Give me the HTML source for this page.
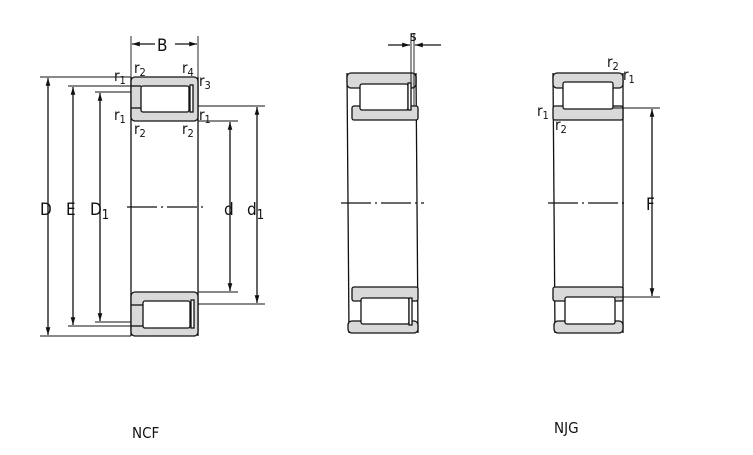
<!DOCTYPE html>
<html><head><meta charset="utf-8"><style>
html,body{margin:0;padding:0;background:#fff;}
svg{display:block}
text{font-family:"DejaVu Sans Condensed","Liberation Sans",sans-serif;fill:#111}
</style></head><body>
<svg width="753" height="455" viewBox="0 0 753 455" xmlns="http://www.w3.org/2000/svg">
<defs>
<marker id="a" viewBox="0 0 10 10" refX="10" refY="5" markerWidth="6" markerHeight="6" orient="auto-start-reverse"><path d="M0,2 L10,5 L0,8 z" fill="#111"/></marker>
</defs>
<g stroke="#111" stroke-width="1.3" fill="none">
<!-- NCF -->
<line x1="131" y1="77" x2="131" y2="336"/><line x1="198" y1="77" x2="198" y2="336"/>
<rect x="131" y="77" width="67" height="44" rx="4" fill="#d9d9d9"/>
<rect x="141" y="86" width="48" height="26" rx="2" fill="#fff"/>
<rect x="190" y="85" width="3" height="27" fill="#fff"/>
<line x1="131" y1="86" x2="141" y2="86"/><line x1="131" y1="108" x2="141" y2="108"/>
<rect x="131" y="292" width="67" height="44" rx="4" fill="#d9d9d9"/>
<rect x="143" y="301" width="47" height="27" rx="2" fill="#fff"/>
<rect x="191" y="300" width="3" height="28" fill="#fff"/>
<line x1="131" y1="305" x2="143" y2="305"/><line x1="131" y1="326" x2="143" y2="326"/>
<line x1="127" y1="207" x2="203" y2="207" stroke-dasharray="30,4,2,4"/>
<!-- dims NCF -->
<g stroke-width="0.9">
<line x1="40" y1="77" x2="131" y2="77"/>
<line x1="40" y1="336" x2="131" y2="336"/>
<line x1="68" y1="86" x2="131" y2="86"/>
<line x1="68" y1="326" x2="131" y2="326"/>
<line x1="95" y1="92" x2="131" y2="92"/>
<line x1="95" y1="322" x2="131" y2="322"/>
<line x1="198" y1="106" x2="265" y2="106"/>
<line x1="198" y1="304" x2="265" y2="304"/>
<line x1="198" y1="121" x2="238" y2="121"/>
<line x1="198" y1="292" x2="238" y2="292"/>
<line x1="131" y1="36" x2="131" y2="77"/>
<line x1="198" y1="36" x2="198" y2="77"/>
</g>
<line x1="48" y1="78" x2="48" y2="335" marker-start="url(#a)" marker-end="url(#a)"/>
<line x1="73" y1="87" x2="73" y2="325" marker-start="url(#a)" marker-end="url(#a)"/>
<line x1="100" y1="93" x2="100" y2="321" marker-start="url(#a)" marker-end="url(#a)"/>
<line x1="230" y1="122" x2="230" y2="291" marker-start="url(#a)" marker-end="url(#a)"/>
<line x1="257" y1="107" x2="257" y2="303" marker-start="url(#a)" marker-end="url(#a)"/>
<line x1="132" y1="44" x2="155" y2="44" marker-start="url(#a)"/>
<line x1="175" y1="44" x2="197" y2="44" marker-end="url(#a)"/>
<!-- NJ middle -->
<line x1="347" y1="73" x2="349" y2="333"/><line x1="416" y1="73" x2="418" y2="333"/>
<rect x="347" y="73" width="69" height="15" rx="4" fill="#d9d9d9"/>
<rect x="352" y="106" width="66" height="14" rx="2" fill="#d9d9d9"/>
<rect x="360" y="84" width="48" height="26" rx="2" fill="#fff"/>
<rect x="408" y="83" width="3" height="27" fill="#fff"/>
<rect x="352" y="287" width="66" height="14" rx="2" fill="#d9d9d9"/>
<rect x="348" y="321" width="70" height="12" rx="4" fill="#d9d9d9"/>
<rect x="361" y="298" width="48" height="26" rx="2" fill="#fff"/>
<rect x="409" y="298" width="3" height="27" fill="#fff"/>
<line x1="341" y1="203" x2="424" y2="203" stroke-dasharray="30,4,2,4"/>
<line x1="411" y1="33" x2="411" y2="84" stroke-width="0.9"/>
<line x1="414" y1="33" x2="414" y2="106" stroke-width="0.9"/>
<line x1="388" y1="45" x2="410" y2="45" marker-end="url(#a)"/>
<line x1="441" y1="45" x2="415" y2="45" marker-end="url(#a)"/>
<!-- NJG -->
<line x1="553" y1="73" x2="555" y2="333"/><line x1="623" y1="73" x2="623" y2="333"/>
<rect x="553" y="73" width="70" height="15" rx="4" fill="#d9d9d9"/>
<rect x="553" y="106" width="70" height="14" rx="2" fill="#d9d9d9"/>
<rect x="563" y="82" width="50" height="27" rx="2" fill="#fff"/>
<rect x="553" y="287" width="70" height="14" rx="2" fill="#d9d9d9"/>
<rect x="554" y="321" width="69" height="12" rx="4" fill="#d9d9d9"/>
<rect x="565" y="297" width="50" height="27" rx="2" fill="#fff"/>
<line x1="548" y1="203" x2="627" y2="203" stroke-dasharray="30,4,2,4"/>
<line x1="613" y1="108" x2="660" y2="108" stroke-width="0.9"/>
<line x1="615" y1="297" x2="660" y2="297" stroke-width="0.9"/>
<line x1="652" y1="109" x2="652" y2="296" marker-start="url(#a)" marker-end="url(#a)"/>
</g>
<g font-size="17">
<text x="157" y="51">B</text>
<text x="40" y="215">D</text><text x="66" y="215">E</text>
<text x="90" y="215">D<tspan font-size="13" dy="4">1</tspan></text>
<text x="224" y="215">d</text>
<text x="247" y="215">d<tspan font-size="13" dy="4">1</tspan></text>
<text x="646" y="210">F</text>
<text x="410" y="41" font-size="14">s</text>
</g>
<g font-size="15">
<text x="114" y="81">r<tspan font-size="11" dy="3">1</tspan></text>
<text x="134" y="73">r<tspan font-size="11" dy="3">2</tspan></text>
<text x="182" y="73">r<tspan font-size="11" dy="3">4</tspan></text>
<text x="199" y="86">r<tspan font-size="11" dy="3">3</tspan></text>
<text x="114" y="120">r<tspan font-size="11" dy="3">1</tspan></text>
<text x="199" y="120">r<tspan font-size="11" dy="3">1</tspan></text>
<text x="134" y="134">r<tspan font-size="11" dy="3">2</tspan></text>
<text x="182" y="134">r<tspan font-size="11" dy="3">2</tspan></text>
<text x="607" y="67">r<tspan font-size="11" dy="3">2</tspan></text>
<text x="623" y="80">r<tspan font-size="11" dy="3">1</tspan></text>
<text x="537" y="116">r<tspan font-size="11" dy="3">1</tspan></text>
<text x="555" y="130">r<tspan font-size="11" dy="3">2</tspan></text>
<text x="132" y="438">NCF</text>
<text x="554" y="433">NJG</text>
</g>
</svg>
</body></html>
